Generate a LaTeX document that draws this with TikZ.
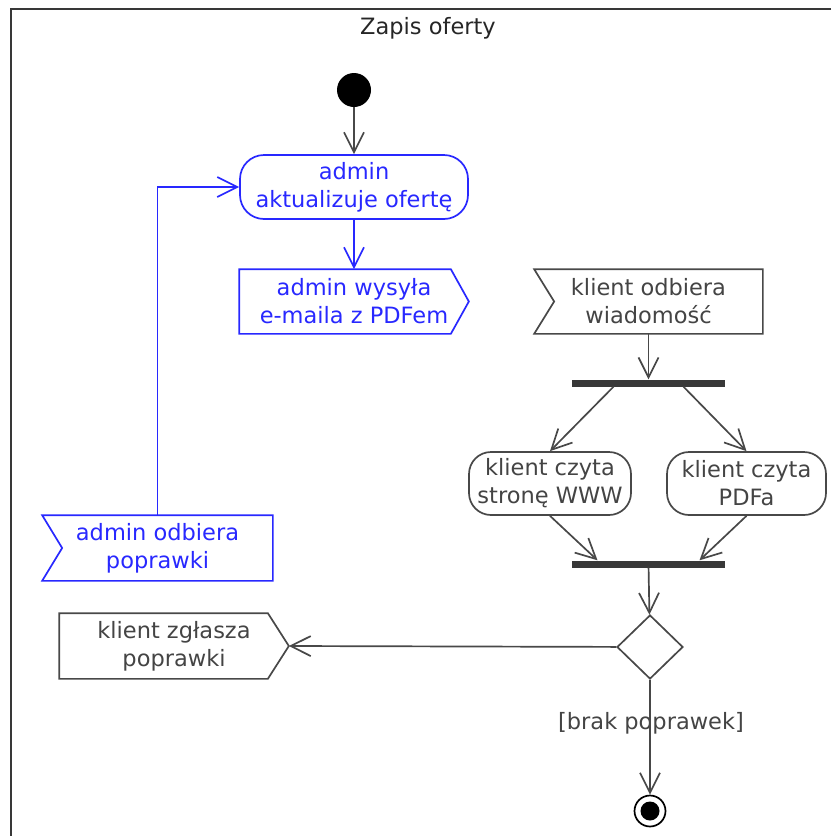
\documentclass[tikz,border=0pt]{standalone}
\usepackage{fontspec}
\setmainfont{DejaVu Sans}
\usetikzlibrary{arrows.meta,shapes.geometric}
\definecolor{ublue}{RGB}{40,40,255}
\definecolor{ugray}{RGB}{72,72,72}
\definecolor{utext}{RGB}{68,68,68}
\definecolor{ubar}{RGB}{56,56,56}
\begin{document}
\begin{tikzpicture}[x=1pt,y=-1pt,
  font=\fontsize{22.5}{28}\selectfont,
  tip/.style={-{Straight Barb[length=20pt,width=20pt]}},
  flow/.style={draw=ugray, line width=1.7pt, tip},
  flowb/.style={draw=ublue, line width=1.7pt, tip},
  box/.style={inner sep=0pt, align=center, line width=1.7pt},
  gact/.style={box, draw=ugray, text=utext, rounded corners=22pt, minimum height=63pt},
  bact/.style={box, draw=ublue, text=ublue, rounded corners=24pt, minimum height=64pt},
  gsig/.style={box, text=utext, minimum height=63pt},
  bsig/.style={box, text=ublue, minimum height=63pt},
  gline/.style={draw=ugray, line width=1.7pt, line join=miter},
  bline/.style={draw=ublue, line width=1.7pt, line join=miter},
  bar/.style={fill=ubar, draw=none, inner sep=0pt, minimum width=153pt, minimum height=7pt},
  startnode/.style={circle, fill=black, inner sep=0pt, minimum size=34pt},
  endnode/.style={circle, draw=black, line width=1.7pt, fill=white, inner sep=0pt, minimum size=31pt,
    path picture={\fill[black] (path picture bounding box.center) circle (9.5pt);}},
  decision/.style={diamond, draw=ugray, line width=1.7pt, inner sep=0pt, minimum width=66pt, minimum height=64pt, aspect=1},
]
\useasboundingbox (0,0) rectangle (831,836);

% frame and title
\draw[draw=ubar, line width=2.2pt] (831,9) -- (11,9) -- (11,836);
\node[text=black!85] (title) at (428,28) {Zapis oferty};

% admin side
\node[startnode] (start) at (354,90) {};
\node[bact, minimum width=228pt] (a1) at (354,187) {admin\\aktualizuje ofertę};
\node[bsig, minimum width=228pt] (s1) at (354,301.5) {admin wysyła\\e-maila z PDFem};
\draw[bline] (s1.north west) -- ([xshift=-18pt]s1.north east) -- (s1.east)
  -- ([xshift=-18pt]s1.south east) -- (s1.south west) -- cycle;
\node[bsig, minimum width=229pt, minimum height=64pt] (ao) at (157.5,548) {admin odbiera\\poprawki};
\draw[bline] (ao.north west) -- (ao.north east) -- (ao.south east) -- (ao.south west)
  -- ([xshift=20pt]ao.west) -- cycle;

% client side
\node[gsig, minimum width=227pt] (r1) at (648.5,301.5) {klient odbiera\\wiadomość};
\draw[gline] (r1.north west) -- (r1.north east) -- (r1.south east) -- (r1.south west)
  -- ([xshift=20pt]r1.west) -- cycle;
\node[bar] (fork) at (648.5,383) {};
\node[gact, minimum width=162pt] (ws) at (550,483.5) {klient czyta\\stronę WWW};
\node[gact, minimum width=159pt] (pdf) at (746.5,483.5) {klient czyta\\PDFa};
\node[bar] (join) at (648.5,564) {};
\node[decision] (dec) at (650,647) {};
\node[gsig, minimum width=228pt, minimum height=64pt] (kz) at (174,646) {klient zgłasza\\poprawki};
\draw[gline] (kz.north west) -- ([xshift=-21pt]kz.north east) -- (kz.east)
  -- ([xshift=-21pt]kz.south east) -- (kz.south west) -- cycle;
\node[endnode] (end) at (650,811) {};
\node[text=utext] (lbl) at (651,723) {[brak poprawek]};

% connectors
\draw[flow] (start) -- (a1);
\draw[flowb] (a1) -- (s1);
\draw[flowb] (ao.north) |- (a1.west);
\draw[flow] (r1) -- (fork);
\draw[flow] ([xshift=-35pt]fork.south) -- (ws.north);
\draw[flow] ([xshift=35pt]fork.south) -- (pdf.north);
\draw[flow] (ws.south) -- ([xshift=-51pt]join.north);
\draw[flow] (pdf.south) -- ([xshift=51pt]join.north);
\draw[flow] (join) -- (dec);
\draw[flow] (dec) -- (kz.east);
\draw[flow] (dec) -- (end);
\end{tikzpicture}
\end{document}
